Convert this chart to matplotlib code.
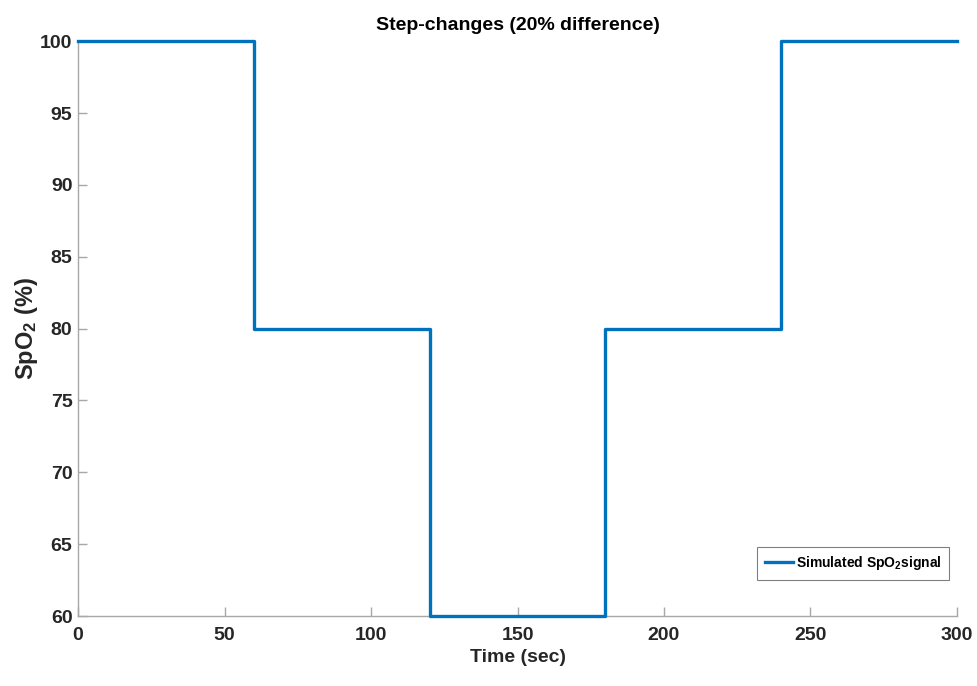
import matplotlib
matplotlib.use("Agg")
import matplotlib.pyplot as plt

# step profile of the simulated SpO2 signal
t_steps = [0, 60, 120, 180, 240, 300]
spo2_levels = [100, 80, 60, 80, 100, 100]

x_ticks = [0, 50, 100, 150, 200, 250, 300]
y_ticks = [60, 65, 70, 75, 80, 85, 90, 95, 100]

plt.rcParams['font.family'] = ['Liberation Sans', 'DejaVu Sans']
plt.rcParams['mathtext.default'] = 'regular'

fig = plt.figure(figsize=(9.78, 6.86), dpi=100)
ax = fig.add_axes([0.0798, 0.102, 0.8987, 0.838])

ax.step(t_steps, spo2_levels, where='post', color='#0072BD', lw=2.4,
        label='Simulated SpO$_2$signal', clip_on=False, zorder=3)

ax.set_xlim(0, 300)
ax.set_ylim(60, 100)
ax.set_xticks(x_ticks)
ax.set_yticks(y_ticks)

for s in ['top', 'right']:
    ax.spines[s].set_visible(False)
for s in ['left', 'bottom']:
    ax.spines[s].set_color('#a8a8a8')
    ax.spines[s].set_linewidth(1.0)

ax.tick_params(direction='in', length=6.5, width=1.0, color='#a8a8a8',
               labelsize=14, labelcolor='#262626')
ax.tick_params(axis='y', pad=4)
ax.tick_params(axis='x', pad=8)
for lab in ax.get_xticklabels() + ax.get_yticklabels():
    lab.set_fontweight('bold')

ax.set_title('Step-changes (20% difference)', fontsize=14, fontweight='bold',
             pad=8)
ax.set_xlabel('Time (sec)', fontsize=14, fontweight='bold', color='#262626')
ax.xaxis.set_label_coords(0.5, -0.057)
ax.set_ylabel('SpO$_2$ (%)', fontsize=17, fontweight='bold', color='#262626')
ax.yaxis.set_label_coords(-0.043, 0.5)

leg = ax.legend(loc='lower right', bbox_to_anchor=(0.991, 0.063),
                borderaxespad=0, fontsize=10, handlelength=2.0,
                handletextpad=0.2, borderpad=0.55,
                fancybox=False, framealpha=1)
leg.get_frame().set_edgecolor('#808080')
leg.get_frame().set_linewidth(0.8)
for txt in leg.get_texts():
    txt.set_fontweight('bold')

fig.savefig('out.png', dpi=100)
